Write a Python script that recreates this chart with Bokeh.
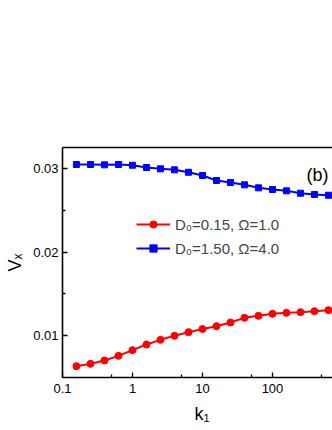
from bokeh.plotting import figure
from bokeh.models import Range1d, FixedTicker, LogAxis, Legend, LegendItem, Label
from bokeh.embed import file_html
from bokeh.resources import INLINE

# ---- data ----
k1 = [0.158, 0.251, 0.398, 0.631, 1.0, 1.585, 2.512, 3.981, 6.31, 10.0,
      15.85, 25.12, 39.81, 63.1, 100.0, 158.5, 251.2, 398.1, 631.0]
vx_red = [0.00632, 0.00660, 0.00700, 0.00756, 0.00824, 0.00892, 0.00948,
          0.00996, 0.01040, 0.01078, 0.01112, 0.01156, 0.01212, 0.01236,
          0.01260, 0.01272, 0.01280, 0.01292, 0.01304]
vx_blue = [0.03052, 0.03052, 0.03048, 0.03052, 0.03043, 0.03016, 0.03000,
           0.02988, 0.02959, 0.02920, 0.02860, 0.02836, 0.02808, 0.02772,
           0.02752, 0.02736, 0.02707, 0.02692, 0.02683]
label_red = "D\u2080=0.15, \u03a9=1.0"
label_blue = "D\u2080=1.50, \u03a9=4.0"

x_ticks = [0.1, 1, 10, 100]
x_tick_labels = ["0.1", "1", "10", "100"]
x_minor = [0.5, 5, 50, 500]
y_ticks = [0.01, 0.02, 0.03]
y_tick_labels = ["0.01", "0.02", "0.03"]
y_minor = [0.015, 0.025]

FONT = "Liberation Sans"

p = figure(width=332, height=430, x_axis_type="log",
           x_range=Range1d(0.1, 720), y_range=Range1d(0.00496, 0.03256),
           output_backend="svg", toolbar_location=None,
           min_border_left=62, min_border_right=0,
           min_border_top=147, min_border_bottom=53)
p.outline_line_color = None
p.grid.visible = False
p.background_fill_color = "white"

def style_axis(ax):
    ax.axis_line_width = 1.6
    ax.axis_line_color = "black"
    ax.major_tick_in = 5
    ax.major_tick_out = 0
    ax.minor_tick_in = 3
    ax.minor_tick_out = 0
    ax.major_tick_line_width = 1.3
    ax.minor_tick_line_width = 1.3
    ax.major_label_text_font = FONT
    ax.major_label_text_font_size = "13px"
    ax.major_label_text_color = "black"
    ax.axis_label_text_font = FONT
    ax.axis_label_text_font_size = "18px"
    ax.axis_label_text_font_style = "normal"
    ax.axis_label_text_color = "black"

xa = p.xaxis[0]
xa.ticker = FixedTicker(ticks=x_ticks, minor_ticks=x_minor)
xa.major_label_overrides = {t: s for t, s in zip(x_ticks, x_tick_labels)}
style_axis(xa)
xa.major_label_standoff = 6
xa.axis_label = "\u2002k\u2081"
xa.axis_label_standoff = 8

ya = p.yaxis[0]
ya.ticker = FixedTicker(ticks=y_ticks, minor_ticks=y_minor)
ya.major_label_overrides = {t: s for t, s in zip(y_ticks, y_tick_labels)}
style_axis(ya)
ya.major_label_standoff = 4
ya.axis_label = "V\u2093"
ya.axis_label_standoff = 5

top = LogAxis(ticker=FixedTicker(ticks=[], minor_ticks=[]),
              major_label_text_font_size="0px", axis_line_width=1.6,
              major_tick_line_color=None, minor_tick_line_color=None)
p.add_layout(top, "above")

r_line = p.line(k1, vx_red, line_color="#FF0000", line_width=2)
r_pts = p.scatter(k1, vx_red, marker="circle", size=7,
                  fill_color="#FF0000", line_color="#FF0000")
b_line = p.line(k1, vx_blue, line_color="#0000FF", line_width=2)
b_pts = p.scatter(k1, vx_blue, marker="square", size=6,
                  fill_color="#0000FF", line_color="#0000FF")

legend = Legend(items=[LegendItem(label=label_red, renderers=[r_line, r_pts]),
                       LegendItem(label=label_blue, renderers=[b_line, b_pts])],
                location=(74, 120), padding=0, margin=0, spacing=6,
                glyph_width=34, glyph_height=18, label_height=18,
                label_standoff=5, border_line_color=None,
                background_fill_alpha=0,
                label_text_font=FONT, label_text_font_size="15px")
p.add_layout(legend, "center")

p.add_layout(Label(text="(b)", x=266, y=203, x_units="screen", y_units="screen",
                   text_font=FONT, text_font_size="18px", text_align="right",
                   text_baseline="alphabetic", text_color="black"))

open("out.html", "w").write(file_html(p, INLINE))
